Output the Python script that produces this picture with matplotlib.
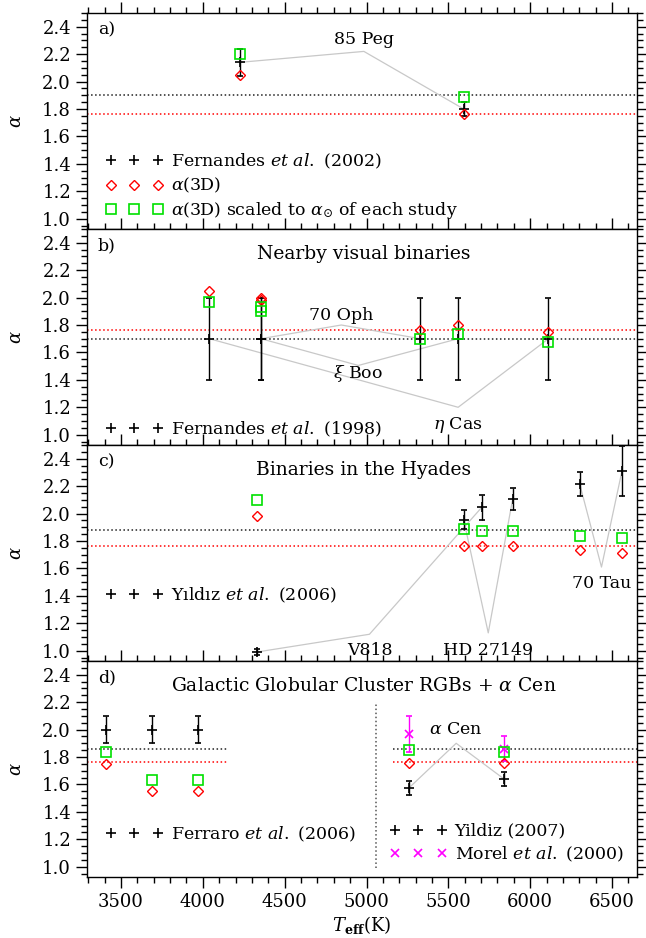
import matplotlib
matplotlib.use("Agg")
import matplotlib.pyplot as plt
from matplotlib.lines import Line2D
from matplotlib.ticker import MultipleLocator

plt.rcParams['font.family'] = ['DejaVu Serif']
plt.rcParams['mathtext.fontset'] = 'dejavuserif'
plt.rcParams['font.size'] = 12

# ---- a) 85 Peg, Fernandes et al. (2002)
a_teff = [4224, 5594]
a_alpha = [2.14, 1.80]
a_err = [0.10, 0.05]
a_3d = [2.05, 1.76]
a_scaled = [2.20, 1.89]
a_sun = 1.90

# ---- b) nearby visual binaries, Fernandes et al. (1998)
b_teff = [4040, 4355, 4355, 5329, 5560, 6112]
b_alpha = [1.70, 1.70, 1.70, 1.70, 1.70, 1.70]
b_err = [0.30, 0.30, 0.30, 0.30, 0.30, 0.30]
b_3d = [2.05, 2.00, 1.98, 1.765, 1.80, 1.75]
b_scaled = [1.97, 1.93, 1.90, 1.695, 1.735, 1.675]
b_sun = 1.70

# ---- c) Hyades binaries, Yildiz et al. (2006)
c_teff = [4328, 5594, 5704, 5893, 6303, 6561]
c_alpha = [0.99, 1.955, 2.045, 2.105, 2.215, 2.31]
c_err = [0.02, 0.07, 0.09, 0.08, 0.09, 0.18]
c_3d = [1.98, 1.765, 1.76, 1.76, 1.735, 1.71]
c_scaled = [2.10, 1.885, 1.875, 1.87, 1.84, 1.82]
c_sun = 1.88

# ---- d) globular cluster RGBs (Ferraro et al. 2006) and alpha Cen
d_gc_teff = [3407, 3690, 3971]
d_gc_alpha = [2.00, 2.00, 2.00]
d_gc_err = [0.10, 0.10, 0.10]
d_gc_3d = [1.75, 1.55, 1.55]
d_gc_scaled = [1.84, 1.63, 1.63]
d_cen_teff = [5260, 5840]
d_yildiz = [1.575, 1.64]
d_yildiz_err = [0.05, 0.05]
d_morel = [1.97, 1.86]
d_morel_err = [0.13, 0.09]
d_cen_3d = [1.755, 1.755]
d_cen_scaled = [1.85, 1.84]
d_sun = 1.86
d_split = 5060

sun_3d = 1.767

# name labels: (text, x, y of text, x, y of line vertex, indices of joined stars)
a_names = [("85 Peg", 4984, 2.31, 4984, 2.22, [0, 1])]
b_names = [("70 Oph", 4846, 1.87, 4846, 1.80, [1, 3]),
           (r"$\xi$ Boo", 4950, 1.45, 4950, 1.505, [2, 4]),
           (r"$\eta$ Cas", 5560, 1.07, 5560, 1.20, [0, 5])]
c_names = [("V818", 5018, 1.00, 5018, 1.12, [0, 2]),
           ("HD 27149", 5744, 1.00, 5744, 1.13, [1, 3]),
           ("70 Tau", 6436, 1.49, 6436, 1.61, [4, 5])]
d_names = [(r"$\alpha$ Cen", 5548, 2.00, 5548, 1.90, [0, 1])]

XLIM = (3292, 6653)
YLIM = (0.925, 2.5)
GREY = '#c8c8c8'

fig = plt.figure(figsize=(6.46, 9.38), dpi=100)
left, width = 87 / 646, 550 / 646
ph = 216 / 938
bottom0 = 61 / 938
axes = [fig.add_axes([left, bottom0 + (3 - i) * ph, width, ph]) for i in range(4)]


def style(ax, last):
    ax.set_xlim(*XLIM)
    ax.set_ylim(*YLIM)
    ax.xaxis.set_major_locator(MultipleLocator(500))
    ax.xaxis.set_minor_locator(MultipleLocator(100))
    ax.yaxis.set_major_locator(MultipleLocator(0.2))
    ax.yaxis.set_minor_locator(MultipleLocator(0.05))
    ax.tick_params(which='both', direction='out', top=True, right=True,
                   labelbottom=last, width=1)
    ax.tick_params(which='major', length=8, labelsize=13)
    ax.tick_params(which='minor', length=4)
    ax.yaxis.set_major_formatter(matplotlib.ticker.FormatStrFormatter('%.1f'))
    ax.set_ylabel(r'$\alpha$', fontsize=13, labelpad=12)
    for s in ax.spines.values():
        s.set_linewidth(1.0)


def points(ax, teff, alpha, err, a3d, scaled):
    ax.errorbar(teff, alpha, yerr=err, fmt='+', color='k', ms=7, mew=1.2,
                elinewidth=1.0, capsize=2.5, capthick=1.0, zorder=4)
    ax.plot(teff, a3d, 'D', mfc='none', mec='red', ms=5.5, mew=1.0, zorder=5)
    ax.plot(teff, scaled, 's', mfc='none', mec='#00e000', ms=7.5, mew=1.2, zorder=5)


def names(ax, teff, alpha, items):
    for text, tx, ty, vx, vy, idx in items:
        i, j = idx
        ax.plot([teff[i], vx, teff[j]], [alpha[i], vy, alpha[j]],
                color=GREY, lw=0.9, zorder=1)
        ax.text(tx, ty, text, ha='center', va='center', fontsize=12.5)


def sunlines(ax, y_black, x0=None, x1=None):
    x0 = XLIM[0] if x0 is None else x0
    x1 = XLIM[1] if x1 is None else x1
    ax.plot([x0, x1], [y_black, y_black], ls=':', color='#222222', lw=1.1, zorder=0)
    ax.plot([x0, x1], [sun_3d, sun_3d], ls=':', color='red', lw=1.1, zorder=0)


h_plus = Line2D([], [], ls='none', marker='+', color='k', ms=7, mew=1.2)
h_dia = Line2D([], [], ls='none', marker='D', mfc='none', mec='red', ms=5.5, mew=1.0)
h_sq = Line2D([], [], ls='none', marker='s', mfc='none', mec='#00e000', ms=7.5, mew=1.2)
h_x = Line2D([], [], ls='none', marker='x', color='#ff00ff', ms=6, mew=1.2)


def legend(ax, handles, labels, x, y):
    leg = ax.legend(handles, labels, numpoints=3, loc='lower left',
                    bbox_to_anchor=(x, y), frameon=False, handlelength=3.3,
                    handletextpad=0.45, labelspacing=0.3, borderpad=0,
                    borderaxespad=0, fontsize=12.5)
    return leg


def tag(ax, s, title=None):
    ax.text(0.02, 0.92, s, transform=ax.transAxes, fontsize=12.5, va='center')
    if title:
        ax.text(4984, 2.32, title, ha='center', va='center', fontsize=13.5)


# a)
ax = axes[0]
style(ax, False)
sunlines(ax, a_sun)
points(ax, a_teff, a_alpha, a_err, a_3d, a_scaled)
names(ax, a_teff, a_alpha, a_names)
tag(ax, 'a)')
legend(ax, [h_plus, h_dia, h_sq],
       [r'Fernandes $\it{et\ al.}$ (2002)', r'$\alpha$(3D)',
        r'$\alpha$(3D) scaled to $\alpha_{\odot}$ of each study'], 0.034, 0.035)

# b)
ax = axes[1]
style(ax, False)
sunlines(ax, b_sun)
points(ax, b_teff, b_alpha, b_err, b_3d, b_scaled)
names(ax, b_teff, b_alpha, b_names)
tag(ax, 'b)', 'Nearby visual binaries')
legend(ax, [h_plus], [r'Fernandes $\it{et\ al.}$ (1998)'], 0.034, 0.03)

# c)
ax = axes[2]
style(ax, False)
sunlines(ax, c_sun)
points(ax, c_teff, c_alpha, c_err, c_3d, c_scaled)
names(ax, c_teff, c_alpha, c_names)
tag(ax, 'c)', 'Binaries in the Hyades')
legend(ax, [h_plus], [r'Y$\mathrm{\imath}$ld$\mathrm{\imath}$z $\it{et\ al.}$ (2006)'], 0.034, 0.26)

# d)
ax = axes[3]
style(ax, True)
sunlines(ax, d_sun, XLIM[0], 4150)
sunlines(ax, d_sun, 5164, XLIM[1])
ax.plot([d_split, d_split], [0.99, 2.2], ls=':', color='#555555', lw=1.1, zorder=0)
points(ax, d_gc_teff, d_gc_alpha, d_gc_err, d_gc_3d, d_gc_scaled)
ax.errorbar(d_cen_teff, d_morel, yerr=d_morel_err, fmt='x', color='#ff00ff',
            ms=6, mew=1.2, elinewidth=1.0, capsize=2.5, zorder=3)
points(ax, d_cen_teff, d_yildiz, d_yildiz_err, d_cen_3d, d_cen_scaled)
names(ax, d_cen_teff, d_yildiz, d_names)
tag(ax, 'd)', r'Galactic Globular Cluster RGBs + $\alpha$ Cen')
leg = legend(ax, [h_plus], [r'Ferraro $\it{et\ al.}$ (2006)'], 0.034, 0.155)
ax.add_artist(leg)
legend(ax, [h_plus, h_x], ['Yildiz (2007)', r'Morel $\it{et\ al.}$ (2000)'],
       0.55, 0.06)
ax.set_xlabel(r'$T_{\mathbf{eff}}$(K)', fontsize=13, labelpad=2)

fig.savefig('out.png', dpi=100)
